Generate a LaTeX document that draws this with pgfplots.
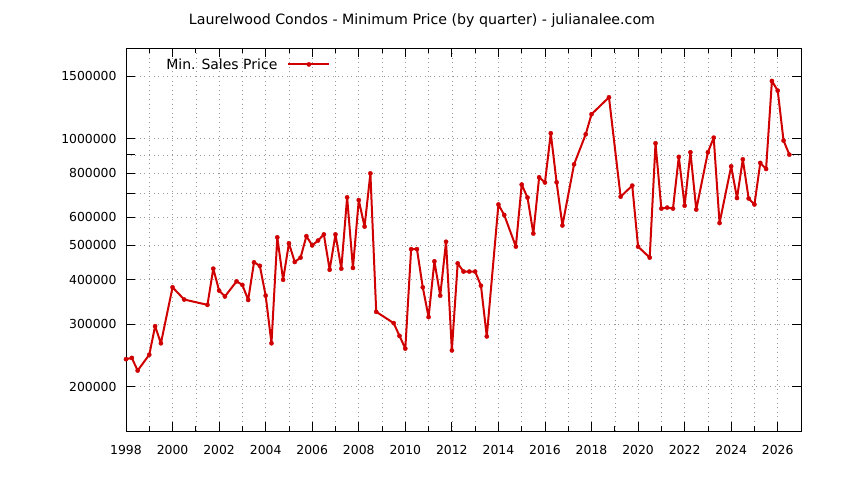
\documentclass[border=0pt]{standalone}
\usepackage{pgfplots}
\pgfplotsset{compat=1.18}
\usepackage{fontspec}
\setmainfont{DejaVu Sans}

\definecolor{pricered}{RGB}{208,0,0}

\begin{document}
\begin{tikzpicture}[font=\fontsize{12.4bp}{15bp}\selectfont]
% page is 844x480 bp, axis box at 126..801 x 48..431 (from top)
\path[use as bounding box] (-126bp,-49bp) rectangle (718bp,431bp);
\begin{axis}[
    scale only axis,
    width=675bp, height=383bp,
    ymode=log,
    xmin=1998, xmax=2027,
    ymin=150000, ymax=1800000,
    xtick={1998,2000,...,2026},
    xticklabels={1998,2000,2002,2004,2006,2008,2010,2012,2014,2016,2018,2020,2022,2024,2026},
    minor xtick={1999,2001,...,2025},
    ytick={200000,300000,400000,500000,600000,700000,800000,900000,1000000,1500000},
    yticklabels={200000,300000,400000,500000,600000,{},800000,{},1000000,1500000},
    /pgf/number format/assume math mode=true,
    tick align=inside,
    major tick length=9bp,
    minor tick length=5bp,
    tick style={black, line width=0.8bp},
    axis line style={black, line width=0.9bp},
    grid=both,
    major grid style={gray!80, line width=0.6bp, dash pattern=on 0.8bp off 3.8bp},
    minor grid style={gray!80, line width=0.6bp, dash pattern=on 0.8bp off 3.8bp},
    xticklabel style={yshift=-11bp},
    yticklabel style={xshift=-6bp},
    legend plot pos=right,
    legend style={draw=none, fill=none, at={(axis description cs:0.052,0.957)}, anchor=west,
        font=\fontsize{14bp}{16bp}\selectfont},
    legend image code/.code={\path (0bp,0bp);
        \draw[mark repeat=2, mark phase=2, #1]
        plot coordinates {(8bp,0bp) (28.5bp,0bp) (49bp,0bp)};},
]
\addplot[color=pricered, line width=2bp, line join=round, mark=*, mark size=2.1bp,
         mark options={fill=pricered, draw=pricered, line width=0.4bp}]
coordinates {
(1998.00,239000) (1998.25,241000) (1998.50,222000) (1999.00,246000)
(1999.25,296000) (1999.50,265000) (2000.00,381000) (2000.50,352000)
(2001.50,340000) (2001.75,430000) (2002.00,373000) (2002.25,359000)
(2002.75,396000) (2003.00,387000) (2003.25,351000) (2003.50,448000)
(2003.75,438000) (2004.00,361000) (2004.25,265000) (2004.50,527000)
(2004.75,400000) (2005.00,507000) (2005.25,449000) (2005.50,462000)
(2005.75,531000) (2006.00,500000) (2006.25,516000) (2006.50,537000)
(2006.75,427000) (2007.00,537000) (2007.25,430000) (2007.50,683000)
(2007.75,432000) (2008.00,671000) (2008.25,565000) (2008.50,798000)
(2008.75,325000) (2009.50,302000) (2009.75,278000) (2010.00,256000)
(2010.25,488000) (2010.50,488000) (2010.75,381000) (2011.00,314000)
(2011.25,451000) (2011.50,361000) (2011.75,512000) (2012.00,253000)
(2012.25,445000) (2012.50,422000) (2012.75,422000) (2013.00,422000)
(2013.25,385000) (2013.50,277000) (2014.00,652000) (2014.25,609000)
(2014.75,496000) (2015.00,742000) (2015.25,682000) (2015.50,540000)
(2015.75,778000) (2016.00,752000) (2016.25,1035000) (2016.50,753000)
(2016.75,569000) (2017.25,846000) (2017.75,1028000) (2018.00,1171000)
(2018.75,1307000) (2019.25,686000) (2019.75,737000) (2020.00,496000)
(2020.50,462000) (2020.75,970000) (2021.00,635000) (2021.25,639000)
(2021.50,635000) (2021.75,888000) (2022.00,647000) (2022.25,915000)
(2022.50,631000) (2023.00,915000) (2023.25,1006000) (2023.50,578000)
(2024.00,835000) (2024.25,680000) (2024.50,874000) (2024.75,678000)
(2025.00,652000) (2025.25,854000) (2025.50,821000) (2025.75,1453000)
(2026.00,1365000) (2026.25,987000) (2026.50,901000)
};
\addlegendentry{Min. Sales Price}
\end{axis}
\node[font=\fontsize{14.2bp}{16bp}\selectfont] at (296bp,410bp)
    {Laurelwood Condos - Minimum Price (by quarter) - julianalee.com};
\end{tikzpicture}
\end{document}
